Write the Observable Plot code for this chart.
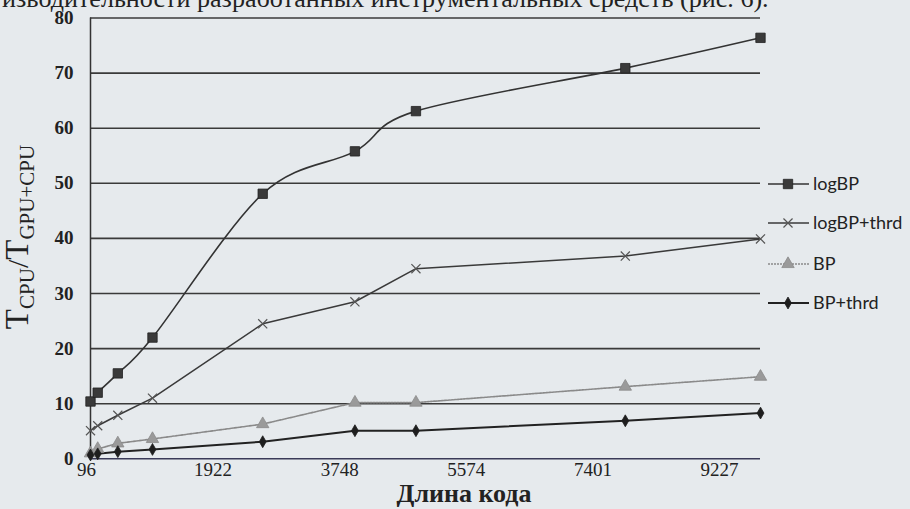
<!DOCTYPE html>
<html>
<head>
<meta charset="utf-8">
<script src="https://cdn.jsdelivr.net/npm/d3@7"></script>
<script src="https://cdn.jsdelivr.net/npm/@observablehq/plot@0.6"></script>
<style>
  html, body { margin: 0; padding: 0; background: #e6eaed; overflow: hidden; }
  #chart { width: 910px; height: 509px; }
</style>
</head>
<body>
<div id="chart"></div>
<script>
// ---- data ----
const codeLength = [96, 200, 490, 990, 2580, 3910, 4790, 7810, 9760];
const logBP      = [10.4, 12.0, 15.5, 22.0, 48.1, 55.8, 63.1, 70.9, 76.4];
const logBPthrd  = [5.1, 6.0, 7.9, 11.0, 24.5, 28.5, 34.5, 36.8, 39.9];
const BP         = [1.0, 1.8, 2.8, 3.6, 6.3, 10.2, 10.2, 13.1, 14.9];
const BPthrd     = [0.7, 0.9, 1.3, 1.7, 3.1, 5.1, 5.1, 6.9, 8.3];
const seriesNames = ["logBP", "logBP+thrd", "BP", "BP+thrd"];
const xTicks = [96, 1922, 3748, 5574, 7401, 9227];
const yTicks = [0, 10, 20, 30, 40, 50, 60, 70, 80];
const xTitle = "Длина кода";
const topText = "изводительности разработанных инструментальных средств (рис. 6).";

const rows = (vals) => codeLength.map((x, i) => ({x, y: vals[i]}));
const dLog = rows(logBP), dLogT = rows(logBPthrd), dBP = rows(BP), dBPT = rows(BPthrd);

const styles = {
  "logBP":      {stroke: "#333", width: 1.6, curve: "cardinal", symbol: "square",   r: 5.3, fill: "#3a3a3a", mstroke: "#222", dash: null},
  "logBP+thrd": {stroke: "#3a3a3a", width: 1.5, curve: "linear", symbol: "times",    r: 4.2, fill: "none",    mstroke: "#555", dash: null},
  "BP":         {stroke: "#8a8a8a", width: 1.6, curve: "linear", symbol: "triangle", r: 4.6, fill: "#9a9a9a", mstroke: "#8a8a8a", dash: "2,1"},
  "BP+thrd":    {stroke: "#222", width: 2.0, curve: "linear", symbol: "diamond",  r: 3.6, fill: "#1e1e1e", mstroke: "#1e1e1e", dash: null}
};
const dataBy = {"logBP": dLog, "logBP+thrd": dLogT, "BP": dBP, "BP+thrd": dBPT};

const marks = [
  Plot.ruleY(yTicks, {x1: codeLength[0], x2: codeLength[codeLength.length - 1], stroke: (d) => d === 0 ? "#3a3a58" : "#3a3a3a", strokeWidth: 1.6}),
  Plot.ruleX([codeLength[0]], {y1: 0, y2: 80, stroke: "#333", strokeWidth: 1.5}),
  Plot.axisY({ticks: yTicks, label: null, tickSize: 0, tickPadding: 17, fill: "#222", fontSize: 19, fontWeight: 600}),
  Plot.axisX({ticks: xTicks, label: null, tickSize: 0, tickPadding: 4, dx: -4, fill: "#222", fontSize: 19, tickFormat: (d) => String(d)})
];
for (const name of seriesNames) {
  const s = styles[name];
  const opts = {x: "x", y: "y", stroke: s.stroke, strokeWidth: s.width, curve: s.curve, strokeDasharray: s.dash};
  if (s.curve === "cardinal") opts.tension = 0;
  marks.push(Plot.line(dataBy[name], opts));
}
for (const name of seriesNames) {
  const s = styles[name];
  marks.push(Plot.dot(dataBy[name], {x: "x", y: "y", symbol: s.symbol, r: s.r, fill: s.fill, stroke: s.mstroke, strokeWidth: name === "logBP+thrd" ? 1.2 : 0.8}));
}

const chart = Plot.plot({
  width: 910,
  height: 509,
  marginLeft: 90,
  marginRight: 150,
  marginTop: 17.5,
  marginBottom: 50.7,
  x: {domain: [codeLength[0], codeLength[codeLength.length - 1]], axis: null, label: null},
  y: {domain: [0, 80], axis: null, label: null},
  style: {fontFamily: "'Liberation Serif', 'DejaVu Serif', serif", background: "transparent", color: "#222"},
  marks
});
document.getElementById("chart").appendChild(chart);

const svg = d3.select(chart);

// cut-off line of book text at the top
svg.append("text").attr("x", 2).attr("y", 7).attr("text-anchor", "start")
  .attr("font-family", "'Liberation Serif', serif").attr("font-size", 26.1)
  .attr("fill", "#222").text(topText);

// y-axis title with subscripts
const yt = svg.append("text")
  .attr("transform", "translate(28,237) rotate(-90)")
  .attr("text-anchor", "middle")
  .attr("font-family", "'Liberation Serif', serif").attr("fill", "#222");
yt.append("tspan").attr("font-size", 33).text("T");
yt.append("tspan").attr("font-size", 21).attr("dy", 6).text("CPU");
yt.append("tspan").attr("font-size", 30).attr("dy", -6).text("/");
yt.append("tspan").attr("font-size", 33).text("T");
yt.append("tspan").attr("font-size", 21).attr("dy", 6).text("GPU+CPU");

// x-axis title
svg.append("text").attr("x", 464).attr("y", 502).attr("text-anchor", "middle")
  .attr("font-family", "'Liberation Serif', serif").attr("font-size", 26).attr("font-weight", 600)
  .attr("fill", "#222").text(xTitle);

// legend
const legendY = [184, 223, 264, 303];
const symMap = {square: d3.symbolSquare, times: d3.symbolTimes, triangle: d3.symbolTriangle, diamond: d3.symbolDiamond};
seriesNames.forEach((name, i) => {
  const s = styles[name];
  const g = svg.append("g").attr("transform", `translate(0,${legendY[i]})`);
  g.append("line").attr("x1", 768).attr("x2", 809).attr("y1", 0).attr("y2", 0)
    .attr("stroke", s.stroke).attr("stroke-width", s.width).attr("stroke-dasharray", s.dash);
  g.append("path").attr("transform", "translate(788,0)")
    .attr("d", d3.symbol(symMap[s.symbol], Math.PI * s.r * s.r)())
    .attr("fill", s.fill).attr("stroke", s.mstroke).attr("stroke-width", name === "logBP+thrd" ? 1.2 : 0.8);
  g.append("text").attr("x", 813).attr("y", 0).attr("dy", "0.35em").attr("text-anchor", "start")
    .attr("font-family", "Lato, 'Open Sans', sans-serif").attr("font-size", 18)
    .attr("fill", "#222").text(name);
});
</script>
</body>
</html>
